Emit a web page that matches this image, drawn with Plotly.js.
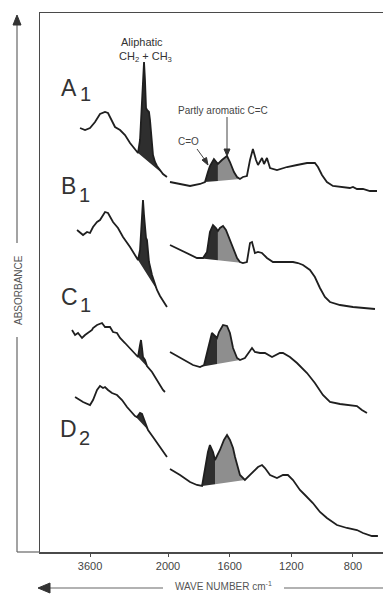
<!DOCTYPE html>
<html><head><meta charset="utf-8">
<script src="https://cdn.plot.ly/plotly-3.0.1.min.js"></script>
<style>html,body{margin:0;padding:0;background:#fff}#chart{width:383px;height:594px}</style>
</head><body><div id="chart"></div>
<script>
// wavenumber (cm-1) and absorbance (arbitrary units, stacked offsets included)
const A1_wn=[3805,3702,3600,3497,3395,3292,3231,3149,3087,2984,2882,2779,2677,2615,2574,2533,2492,2472,2451,2431,2390,2369,2328,2308,2267,2226,2164,2103,2021,
 1987,1922,1857,1792,1760,1741,1728,1702,1676,1650,1617,1598,1572,1552,1533,1514,1488,1468,1449,1429,1416,1390,1377,1358,1338,1293,1228,1163,1098,1047,1027,1001,969,930,865,820,800,774,735,690,644];
const A1_ab=[4.24,4.22,4.24,4.30,4.38,4.40,4.39,4.30,4.25,4.22,4.17,4.09,4.02,3.99,4.12,4.52,4.90,4.72,4.44,4.42,4.40,4.32,4.12,3.97,3.90,3.86,3.82,3.78,3.75,
 3.70,3.68,3.66,3.68,3.70,3.80,3.86,3.93,3.88,3.92,3.96,3.90,3.80,3.75,3.73,3.75,3.76,3.92,4.03,3.92,3.87,3.94,3.88,3.94,3.84,3.82,3.85,3.87,3.89,3.89,3.85,3.77,3.70,3.66,3.65,3.64,3.65,3.63,3.63,3.61,3.61];

const B1_wn=[3866,3805,3743,3661,3600,3538,3456,3395,3292,3231,3128,3026,2923,2779,2677,2615,2574,2533,2513,2492,2451,2431,2410,2390,2328,2226,2164,2103,2021,
 1987,1922,1857,1812,1773,1747,1728,1708,1689,1676,1663,1643,1624,1598,1578,1552,1533,1514,1488,1468,1455,1436,1416,1390,1358,1319,1254,1189,1157,1124,1079,1047,1014,982,949,884,800,709,657];
const B1_ab=[3.22,3.19,3.17,3.20,3.19,3.25,3.30,3.32,3.40,3.39,3.30,3.24,3.15,3.05,2.97,2.92,3.02,3.37,3.52,3.37,3.14,3.12,3.00,2.90,2.77,2.62,2.56,2.51,2.45,
 3.07,3.02,2.97,2.94,2.94,3.00,3.20,3.27,3.24,3.21,3.24,3.26,3.22,3.12,3.04,2.94,2.90,2.89,2.90,3.09,3.10,2.99,3.00,2.99,2.94,2.90,2.90,2.90,2.89,2.87,2.82,2.75,2.64,2.55,2.50,2.47,2.45,2.44,2.43];

const C1_wn=[3969,3907,3846,3764,3702,3641,3559,3538,3456,3354,3292,3190,3128,3046,2984,2882,2779,2677,2615,2574,2554,2533,2513,2472,2431,2328,2267,2164,2103,2062,
 1987,1922,1838,1792,1766,1747,1728,1715,1682,1669,1643,1617,1598,1578,1552,1533,1501,1455,1436,1403,1371,1325,1274,1254,1209,1163,1098,1047,995,949,884,820,774,742,709];
const C1_ab=[2.22,2.17,2.19,2.14,2.17,2.19,2.22,2.24,2.27,2.29,2.25,2.25,2.20,2.19,2.14,2.09,2.04,1.99,1.95,2.07,2.12,2.04,1.95,1.92,1.86,1.80,1.75,1.66,1.62,1.60,
 2.00,1.94,1.87,1.85,1.87,1.99,2.12,2.19,2.14,2.20,2.27,2.26,2.19,2.04,1.94,1.92,1.94,2.04,2.00,1.99,1.99,1.95,1.99,1.99,1.95,1.89,1.79,1.69,1.57,1.50,1.48,1.47,1.46,1.42,1.39];

const D2_wn=[3907,3743,3600,3538,3456,3395,3333,3292,3231,3149,3046,2943,2841,2738,2677,2636,2574,2533,2472,2410,2308,2164,2021,
 1987,1922,1857,1812,1779,1760,1741,1728,1708,1695,1663,1637,1617,1598,1578,1565,1546,1533,1501,1481,1449,1416,1390,1371,1338,1293,1254,1222,1189,1144,1111,1060,1014,969,904,839,774,735,677,638];
const D2_ab=[1.55,1.50,1.47,1.52,1.62,1.66,1.64,1.65,1.62,1.59,1.57,1.52,1.45,1.39,1.36,1.35,1.39,1.38,1.29,1.22,1.15,1.05,0.95,
 0.83,0.77,0.70,0.67,0.66,0.85,1.00,1.07,1.00,0.92,1.02,1.12,1.17,1.12,1.04,0.95,0.84,0.77,0.72,0.75,0.79,0.85,0.87,0.84,0.77,0.74,0.77,0.77,0.72,0.62,0.57,0.49,0.40,0.34,0.27,0.24,0.22,0.19,0.16,0.16];

// shaded bands: aliphatic [from, to]; carbonyl/aromatic [from, split, to]
const ALI_A1=[2615,2103], CO_A1=[1760,1676,1533];
const ALI_B1=[2615,2226], CO_B1=[1812,1676,1514];
const ALI_C1=[2615,2328], CO_C1=[1792,1682,1533];
const ALI_D2=[2677,2410], CO_D2=[1779,1695,1501];

const HI_TICKS=[3600], LO_TICKS=[2000,1600,1200,800];
const BREAK_WN=2000;

const spectra=[
 {wn:A1_wn,ab:A1_ab,ali:ALI_A1,co:CO_A1},
 {wn:B1_wn,ab:B1_ab,ali:ALI_B1,co:CO_B1},
 {wn:C1_wn,ab:C1_ab,ali:ALI_C1,co:CO_C1},
 {wn:D2_wn,ab:D2_ab,ali:ALI_D2,co:CO_D2}
];

const DARK='#2e2e2e', GREY='#8e8e8e', INK='#1f1f1f', FRAME='#4a4a4a';
const FONT='Liberation Sans, Arial, sans-serif';

function pick(wn,ab,hi,lo){const x=[],y=[];for(let i=0;i<wn.length;i++){if(wn[i]<=hi&&wn[i]>=lo){x.push(wn[i]);y.push(ab[i]);}}return {x,y};}
function abAt(wn,ab,w){return ab[wn.indexOf(w)];}
function fillTrace(x,y,xa,color){return {x,y,xaxis:xa,yaxis:'y',type:'scatter',mode:'lines',fill:'toself',fillcolor:color,line:{width:0,color:'rgba(0,0,0,0)'},hoverinfo:'skip',showlegend:false};}

const traces=[];
spectra.forEach(s=>{
  let p=pick(s.wn,s.ab,s.ali[0],s.ali[1]);
  traces.push(fillTrace(p.x,p.y,'x',DARK));
  const [c1,cs,c2]=s.co;
  const y1=abAt(s.wn,s.ab,c1), y2=abAt(s.wn,s.ab,c2);
  const base=y1+(y2-y1)*(cs-c1)/(c2-c1);
  p=pick(s.wn,s.ab,c1,cs);
  traces.push(fillTrace([...p.x,cs],[...p.y,base],'x2',DARK));
  p=pick(s.wn,s.ab,cs,c2);
  traces.push(fillTrace([cs,...p.x],[base,...p.y],'x2',GREY));
});
spectra.forEach(s=>{
  const hi=pick(s.wn,s.ab,1e5,BREAK_WN), lo=pick(s.wn,s.ab,BREAK_WN,0);
  [[hi,'x'],[lo,'x2']].forEach(([p,xa])=>traces.push({x:p.x,y:p.y,xaxis:xa,yaxis:'y',type:'scatter',mode:'lines',line:{color:INK,width:1.8},hoverinfo:'skip',showlegend:false}));
});

const W=343, H=539, L=40, T=13;
const px=v=>(v-L)/W, py=v=>(T+H-v)/H;
const SPLIT=px(168);

const axCommon={showgrid:false,zeroline:false,showline:true,linecolor:FRAME,linewidth:1.5,mirror:true,ticks:'outside',ticklen:3,tickcolor:FRAME,tickfont:{family:FONT,size:11,color:'#444'},fixedrange:true};

function txt(x,y,text,size,color,extra){return Object.assign({xref:'paper',yref:'paper',x:px(x),y:py(y),xanchor:'center',yanchor:'middle',text,showarrow:false,font:{family:FONT,size,color}},extra||{});}

const layout={
  width:383,height:594,margin:{l:L,r:0,t:T,b:42},
  paper_bgcolor:'#ffffff',plot_bgcolor:'#ffffff',showlegend:false,
  xaxis:Object.assign({},axCommon,{domain:[0,SPLIT],range:[4626,2000],tickvals:HI_TICKS,ticktext:HI_TICKS.map(String)}),
  xaxis2:Object.assign({},axCommon,{domain:[SPLIT,1],range:[2000,605],anchor:'y',tickvals:LO_TICKS,ticktext:LO_TICKS.map(String)}),
  yaxis:{range:[0,5.39],showgrid:false,zeroline:false,showline:true,linecolor:FRAME,linewidth:1.5,showticklabels:false,ticks:'',fixedrange:true},
  annotations:[
    txt(69,88,'A',23,'#333'), txt(85,94,'1',20,'#333'),
    txt(68,186,'B',23,'#333'), txt(84,195,'1',20,'#333'),
    txt(69,297,'C',23,'#333'), txt(85,305,'1',20,'#333'),
    txt(68,429,'D',23,'#333'), txt(84,438,'2',20,'#333'),
    txt(142,42,'Aliphatic',11,'#333'),
    txt(145,57,'CH<sub>2</sub> + CH<sub>3</sub>',11,'#333'),
    txt(223,110,'Partly aromatic C=C',10,'#444'),
    txt(188,142,'C=O',10,'#444'),
    txt(18,290,'ABSORBANCE',10,'#555',{textangle:-90}),
    txt(223,586,'WAVE NUMBER cm<sup>-1</sup>',10,'#555')
  ],
  shapes:[
    {type:'line',xref:'paper',yref:'paper',x0:px(17),x1:px(17),y0:py(552),y1:py(337),line:{color:'#666',width:1.2}},
    {type:'line',xref:'paper',yref:'paper',x0:px(17),x1:px(17),y0:py(243),y1:py(22),line:{color:'#666',width:1.2}},
    {type:'path',xref:'paper',yref:'paper',path:`M ${px(13)} ${py(25)} L ${px(17)} ${py(15)} L ${px(21)} ${py(25)} Z`,fillcolor:'#333',line:{color:'#333',width:1}},
    {type:'line',xref:'paper',yref:'paper',x0:px(17),x1:px(40),y0:py(552),y1:py(552),line:{color:'#666',width:1.2}},
    {type:'line',xref:'paper',yref:'paper',x0:px(48),x1:px(163),y0:py(588),y1:py(588),line:{color:'#666',width:1.2}},
    {type:'line',xref:'paper',yref:'paper',x0:px(284),x1:px(383),y0:py(588),y1:py(588),line:{color:'#666',width:1.2}},
    {type:'path',xref:'paper',yref:'paper',path:`M ${px(50)} ${py(583)} L ${px(38)} ${py(588)} L ${px(50)} ${py(593)} Z`,fillcolor:'#333',line:{color:'#333',width:1}},
    // pointer arrows for the band labels
    {type:'line',xref:'paper',yref:'paper',x0:px(227),x1:px(227),y0:py(117),y1:py(150),line:{color:'#444',width:1}},
    {type:'path',xref:'paper',yref:'paper',path:`M ${px(224)} ${py(149)} L ${px(227)} ${py(156)} L ${px(230)} ${py(149)} Z`,fillcolor:'#333',line:{color:'#333',width:1}},
    {type:'line',xref:'paper',yref:'paper',x0:px(197),x1:px(205),y0:py(149),y1:py(160),line:{color:'#444',width:1}},
    {type:'path',xref:'paper',yref:'paper',path:`M ${px(202)} ${py(160)} L ${px(208)} ${py(165)} L ${px(206.5)} ${py(157.5)} Z`,fillcolor:'#333',line:{color:'#333',width:1}}
  ]
};

Plotly.newPlot('chart',traces,layout,{staticPlot:true,displayModeBar:false});
</script></body></html>
